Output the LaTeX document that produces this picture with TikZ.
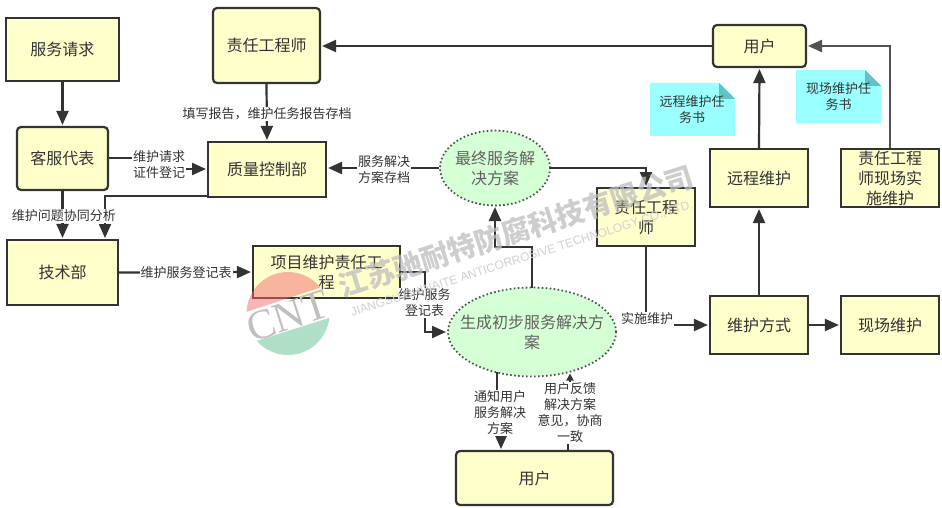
\documentclass[tikz,border=0pt]{standalone}
\usepackage{fontspec}
\usepackage{graphicx}
\setmainfont{Noto Sans CJK SC}
\newfontfamily\wmserif{Liberation Serif}
\newfontfamily\wmsans{Liberation Sans}
\usetikzlibrary{arrows.meta,shapes.geometric,calc}
\definecolor{boxfill}{HTML}{FFFFCC}
\definecolor{inkc}{HTML}{333333}
\definecolor{ellfill}{HTML}{D5FFD5}
\definecolor{notefill}{HTML}{99FFFF}
\definecolor{foldc}{HTML}{5CC4C4}
\definecolor{logopink}{HTML}{F46A72}
\definecolor{logogreen}{HTML}{B0DFC8}
\tikzset{
  boxbase/.style={draw=inkc,line width=2.2pt,fill=boxfill,text=inkc,align=center,inner sep=0pt,font=\fontsize{16}{20}\selectfont},
  flow/.style={boxbase,rectangle},
  soft/.style={boxbase,rectangle,rounded corners=4pt},
  cloud/.style={ellipse,draw=inkc!85,line width=1.8pt,dash pattern=on 1.6pt off 2.4pt,fill=ellfill,text=black!62,align=center,inner ysep=0pt,inner xsep=-16pt,font=\fontsize{16}{20}\selectfont},
  conn/.style={draw=inkc,line width=2.2pt,-{Triangle[length=14pt,width=12pt]},shorten >=1pt},
  lab/.style={fill=white,text=inkc,align=center,inner sep=1pt,font=\fontsize{13}{16}\selectfont},
  notetext/.style={text=inkc,align=center,inner sep=0pt,font=\fontsize{13}{16}\selectfont}
}
\begin{document}
\begin{tikzpicture}[x=1pt,y=-1pt]
\useasboundingbox (0,0) rectangle (942,508);
\fill[white] (0,0) rectangle (942,508);
% notes
\fill[notefill] (650,83) -- (719,83) -- (735,99) -- (735,136) -- (650,136) -- cycle;
\fill[foldc] (719,83) -- (735,99) -- (719,99) -- cycle;
\node[notetext] (noteremote) at (692,110) {远程维护任\\务书};
\fill[notefill] (796,70) -- (865,70) -- (881,86) -- (881,123) -- (796,123) -- cycle;
\fill[foldc] (865,70) -- (881,86) -- (865,86) -- cycle;
\node[notetext] (noteonsite) at (838.5,97) {现场维护任\\务书};
% boxes
\node[flow,minimum width=113pt,minimum height=63pt] (req) at (62.5,49.5) {服务请求};
\node[soft,minimum width=107pt,minimum height=75pt] (eng) at (266.5,45.5) {责任工程师};
\node[soft,minimum width=93pt,minimum height=42pt] (usertop) at (759.5,46) {用户};
\node[soft,minimum width=91pt,minimum height=63pt] (cs) at (62.5,158.5) {客服代表};
\node[flow,minimum width=118pt,minimum height=55pt] (qc) at (267,169.5) {质量控制部};
\node[flow,minimum width=111pt,minimum height=65pt] (tech) at (62.5,272.5) {技术部};
\node[flow,minimum width=147pt,minimum height=52pt] (proj) at (326.5,272) {项目维护责任工\\程};
\node[flow,minimum width=98pt,minimum height=58pt] (engmid) at (646,217) {责任工程\\师};
\node[flow,minimum width=98pt,minimum height=58pt] (remote) at (759,178) {远程维护};
\node[flow,minimum width=98pt,minimum height=58pt] (engsite) at (890,178) {责任工程\\师现场实\\施维护};
\node[flow,minimum width=98pt,minimum height=58pt] (mode) at (759,325) {维护方式};
\node[flow,minimum width=98pt,minimum height=58pt] (onsite) at (890,325) {现场维护};
\node[soft,minimum width=157pt,minimum height=54pt] (userbot) at (534.5,478) {用户};
\node[cloud,minimum width=110pt,minimum height=75pt] (final) at (495,168) {最终服务解\\决方案};
\node[cloud,minimum width=168pt,minimum height=89pt] (init) at (532,332) {生成初步服务解决方\\案};
% helper coordinates
\coordinate (csout) at (108,158);
\coordinate (csbend) at (160,158);
\coordinate (qcin) at (207,169);
\coordinate (qcout) at (208,196);
\coordinate (techin) at (105,239);
\coordinate (initup) at (532,287.5);
\coordinate (initn) at (495,206);
\coordinate (finalr) at (550,168);
\coordinate (engmidin) at (646,187);
\coordinate (usersite) at (807,46);
\coordinate (botoutl) at (497,372);
\coordinate (botinl) at (501,450);
\coordinate (botoutr) at (568,450);
\coordinate (botinr) at (570,372.5);
\coordinate (initw) at (447,332);
% connectors
\draw[conn] (req.south) -- (cs.north);
\draw[conn] (eng.south) -- (qc.north);
\draw[conn] (csout) -- (csbend) |- (qcin);
\draw[conn] (cs.south) -- (tech.north);
\draw[conn] (qcout) -| (techin);
\draw[conn] (tech.east) -- (proj.west);
\draw[conn] (proj.east) -- ++(24,0) |- (initw);
\draw[conn] (final.west) -- (qc.east |- final.west);
\draw[conn] (finalr) -| (engmidin);
\draw[conn] (initup) -- (532,247) -| (initn);
\draw[conn] (engmid.south) |- (mode.west);
\draw[conn] (mode.east) -- (onsite.west);
\draw[conn] (mode.north) -- (remote.south);
\draw[conn] (remote.north) -- (usertop.south);
\draw[conn,draw=inkc!85] (engsite.north) |- (usersite);
\draw[conn] (usertop.west) -- (eng.east |- usertop.west);
\draw[conn] (botoutl) -- (497,405) -- (501,405) -- (botinl);
\draw[conn,-{Triangle[length=7pt,width=7pt]}] (botoutr) -- (568,410) -- (570,410) -- (botinr);
% connector labels
\node[lab] (l1) at (267,114) {填写报告，维护任务报告存档};
\node[lab] (l2) at (159,165) {维护请求\\证件登记};
\node[lab] (l3) at (64,216) {维护问题协同分析};
\node[lab] (l4) at (186,273) {维护服务登记表};
\node[lab] (l5) at (424.5,303) {维护服务\\登记表};
\node[lab] (l6) at (384,170) {服务解决\\方案存档};
\node[lab] (l7) at (647,319) {实施维护};
\node[lab] (l8) at (500,413) {通知用户\\服务解决\\方案};
\node[lab] (l9) at (570,413) {用户反馈\\解决方案\\意见，协商\\一致};
% logo
\begin{scope}
\clip (288,313.5) circle (41.5);
\fill[fill=logopink,opacity=.5] (240,314) -- (325,286) -- (325,265) -- (240,265) -- cycle;
\fill[fill=logogreen] (250,343) -- (335,316) -- (335,360) -- (250,360) -- cycle;
\end{scope}
\node[text=black!25,inner sep=0pt,rotate=18,font=\wmserif\fontsize{42}{42}\selectfont] (logotext) at (288,316) {CNT};
\node[text=black!25,inner sep=0pt,font=\wmsans\fontsize{7}{7}\selectfont] (logoreg) at (321,277) {®};
% watermark
\node[text=black!26,opacity=.75,inner sep=0pt,rotate=17.6] (wmcn) at (516,231) {\resizebox{370pt}{!}{\bfseries 江苏驰耐特防腐科技有限公司}};
\node[text=black!18,inner sep=0pt,rotate=17.6] (wmen) at (522,259) {\resizebox{358pt}{!}{\wmsans JIANGSU CHINAITE ANTICORROSIVE TECHNOLOGY CO., LTD.}};
\end{tikzpicture}
\end{document}
